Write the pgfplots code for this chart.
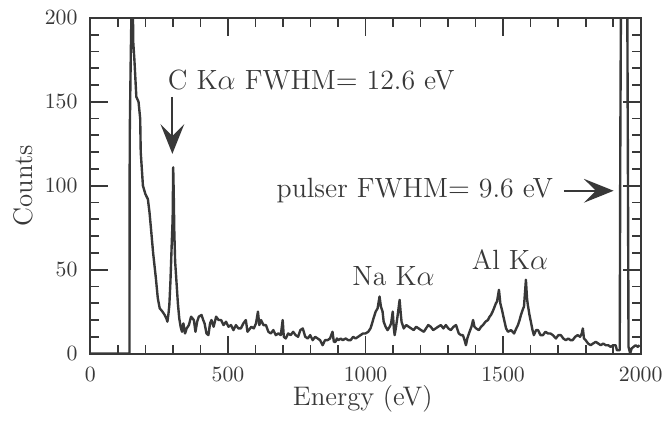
\documentclass[border=0pt]{standalone}
\usepackage{pgfplots}
\pgfplotsset{compat=1.18}
\usetikzlibrary{arrows.meta}
\colorlet{ink}{black!78}

\pgfplotstableread{
E c
0 0
100 0
140 0
142 0
143 130
147 180
150 210
154 210
156 185
160 175
167 153
175 150
181 140
183 120
191 100
200 95
209 92
215 84
220 75
228 60
238 45
245 33
252 27
262 25
270 23
276 21
280 19
284 24
287 29
291 43
296 67
299 80
301 111
303 95
305 73
308 55
312 45
318 30
323 21
328 16
333 13
338 18
344 12
350 15
358 17
366 22
376 20
382 13
388 19
394 22
404 23
410 20
415 18
422 12
429 11
435 18
440 20
448 16
457 22
466 20
475 20
484 17
493 19
502 16
511 17
520 14
529 17
538 15
547 15
556 18
565 20
571 13
576 14
585 16
594 15
602 18
609 25
614 17
620 20
629 17
638 17
647 13
656 12
665 14
674 11
683 12
692 11
699 20
703 10
710 9
719 12
728 11
737 13
746 11
755 10
763 14
772 15
781 10
790 9
799 11
808 8
817 10
826 9
835 8
844 5
853 8
862 8
871 9
880 13
885 7
891 7
896 9
902 8
910 9
917 8
928 9
937 8
946 8
955 10
964 9
973 10
982 11
991 12
1000 12
1010 13
1018 15
1024 18
1029 21
1037 25
1044 27
1051 34
1056 28
1062 25
1066 19
1073 16
1080 14
1088 16
1093 18
1099 25
1103 15
1106 11
1111 16
1117 23
1124 32
1128 24
1131 19
1139 15
1148 17
1157 16
1166 15
1175 14
1184 16
1193 15
1202 14
1212 13
1220 15
1228 17
1237 16
1246 14
1255 15
1264 16
1274 17
1283 15
1292 17
1301 15
1310 14
1320 16
1329 17
1339 12
1347 11
1354 11
1360 8
1365 5
1370 9
1376 12
1385 16
1391 20
1396 16
1402 15
1412 14
1420 16
1427 17
1436 19
1445 20
1451 22
1456 23
1462 25
1467 27
1474 30
1478 31
1485 38
1490 30
1496 26
1504 20
1511 15
1518 13
1529 14
1540 12
1548 15
1554 17
1560 20
1565 23
1571 26
1576 28
1583 44
1587 33
1590 29
1596 23
1601 19
1607 14
1612 11
1620 14
1627 14
1636 11
1645 11
1654 13
1663 12
1672 12
1681 11
1692 9
1701 11
1710 11
1719 9
1728 8
1737 9
1745 8
1753 8
1762 10
1771 11
1780 10
1786 12
1790 15
1794 9
1800 8
1809 6
1818 5
1827 6
1837 7
1846 6
1855 5
1864 6
1873 5
1882 5
1891 4
1900 5
1909 5
1914 2
1924 2
1926 120
1929 230
1951 230
1954 100
1956 4
1962 0
1967 3
1974 4
1982 5
1990 4
1996 5
}\spectrum

\begin{document}
\begin{tikzpicture}[font=\fontsize{14}{17}\selectfont]
\begin{axis}[
  width=277pt, height=169pt, scale only axis,
  xmin=0, xmax=2000, ymin=0, ymax=200,
  xtick={0,500,...,2000}, ytick={0,50,...,200},
  minor x tick num=4, minor y tick num=4,
  /pgf/number format/1000 sep={},
  tick align=inside,
  major tick length=9pt, minor tick length=4.5pt,
  axis line style={line width=1pt, ink},
  every tick/.style={line width=0.9pt, ink},
  tick label style={font=\fontsize{10.5}{12}\selectfont, text=ink},
  xticklabel style={yshift=-3.5pt},
  yticklabel style={xshift=-3pt},
  xlabel={Energy (eV)},
  ylabel={Counts},
  label style={font=\fontsize{13.5}{16}\selectfont},
  xlabel style={at={(axis description cs:0.495,-0.135)}, anchor=center, text=ink},
  ylabel style={at={(axis description cs:-0.122,0.5)}, anchor=center, text=ink},
  clip mode=individual,
]
\addplot[line width=1.2pt, ink, line join=round] table[x=E, y=c] {\spectrum};

\node[anchor=west, inner sep=0, text=ink] at (axis cs:280,163) {C K$\alpha$ FWHM$=$ 12.6 eV};
\draw[ink, line width=1pt, -{Stealth[length=15pt, width=12pt, inset=6pt]}]
  (axis cs:298,153) -- (axis cs:298,119);

\node[anchor=east, inner sep=0, text=ink] at (axis cs:1683,97) {pulser FWHM$=$ 9.6 eV};
\draw[ink, line width=1pt, -{Stealth[length=15pt, width=12pt, inset=6pt]}]
  (axis cs:1721,97) -- (axis cs:1902,97);

\node[inner sep=0, text=ink] at (axis cs:1102,46) {Na K$\alpha$};
\node[inner sep=0, text=ink] at (axis cs:1525,56) {Al K$\alpha$};

\coordinate (bl) at (rel axis cs:0,0);
\coordinate (tr) at (rel axis cs:1,1);
\end{axis}
\path ([xshift=-45.5pt, yshift=-33.5pt]bl) rectangle ([xshift=12pt, yshift=9pt]tr);
\end{tikzpicture}
\end{document}
